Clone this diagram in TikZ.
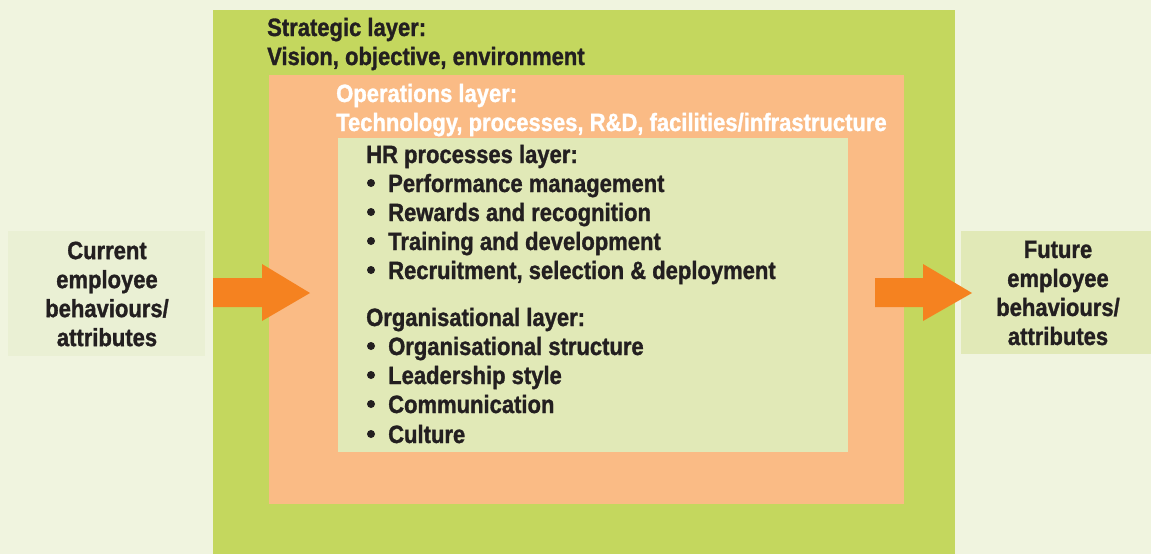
\documentclass[tikz,border=0pt]{standalone}
\usepackage{fontspec}
\setmainfont[FakeStretch=0.88, BoldFeatures={FakeBold=1.2}]{Liberation Sans}
\begin{document}
\definecolor{bgcream}{HTML}{F0F4DF}
\definecolor{stratgreen}{HTML}{C4D75E}
\definecolor{opsorange}{HTML}{FABB85}
\definecolor{hrgreen}{HTML}{E1E9B7}
\definecolor{curbox}{HTML}{EAF0D4}
\definecolor{arroworange}{HTML}{F58220}
\definecolor{inkdark}{HTML}{231F20}
\begin{tikzpicture}[x=1pt,y=-1pt,
  every node/.style={font=\fontsize{25}{29}\selectfont\bfseries, text=inkdark, inner sep=0pt},
  line/.style={anchor=base west},
  item/.style={anchor=base west},
  sidetext/.style={align=center},
  bulletdot/.style={fill=inkdark},
  bigarrow/.style={fill=arroworange, draw=none}]
  % canvas
  \fill[bgcream] (0,0) rectangle (1151,554);
  \useasboundingbox (0,0) rectangle (1151,554);
  % nested layers
  \fill[stratgreen] (213,10) rectangle (955,554);
  \fill[opsorange] (269,75) rectangle (904,504);
  \fill[hrgreen] (338,138) rectangle (848,452);
  % side boxes
  \fill[curbox] (8,231) rectangle (205,356);
  \fill[hrgreen] (961,231) rectangle (1151,354);

  % strategic layer
  \node[line] (s1) at (267,36) {Strategic layer:};
  \node[line] (s2) at (267,65) {Vision, objective, environment};
  % operations layer
  \node[line, text=white] (o1) at (336,102) {Operations layer:};
  \node[line, text=white] (o2) at (336,131) {Technology, processes, R\&D, facilities/infrastructure};
  % HR processes layer
  \node[line] (h0) at (366,163) {HR processes layer:};
  \node[item] (h1) at (388,192) {Performance management};
  \node[item] (h2) at (388,221) {Rewards and recognition};
  \node[item] (h3) at (388,250) {Training and development};
  \node[item] (h4) at (388,279) {Recruitment, selection \& deployment};
  % organisational layer
  \node[line] (g0) at (366,326) {Organisational layer:};
  \node[item] (g1) at (388,355) {Organisational structure};
  \node[item] (g2) at (388,384) {Leadership style};
  \node[item] (g3) at (388,413) {Communication};
  \node[item] (g4) at (388,443) {Culture};
  % list bullets
  \foreach \n in {h1,h2,h3,h4,g1,g2,g3,g4}
    \fill[bulletdot] (\n.base west) ++(-17,-9) circle (4);

  % behaviours before and after
  \node[sidetext] (cur) at (107,294) {Current\\employee\\behaviours/\\attributes};
  \node[sidetext] (fut) at (1058,293) {Future\\employee\\behaviours/\\attributes};

  % arrows
  \fill[bigarrow] (213,278) -- (262,278) -- (262,264) -- (310,293) -- (262,321) -- (262,307) -- (213,307) -- cycle;
  \fill[bigarrow] (875,278) -- (923,278) -- (923,264) -- (972,293) -- (923,321) -- (923,307) -- (875,307) -- cycle;
\end{tikzpicture}
\end{document}
